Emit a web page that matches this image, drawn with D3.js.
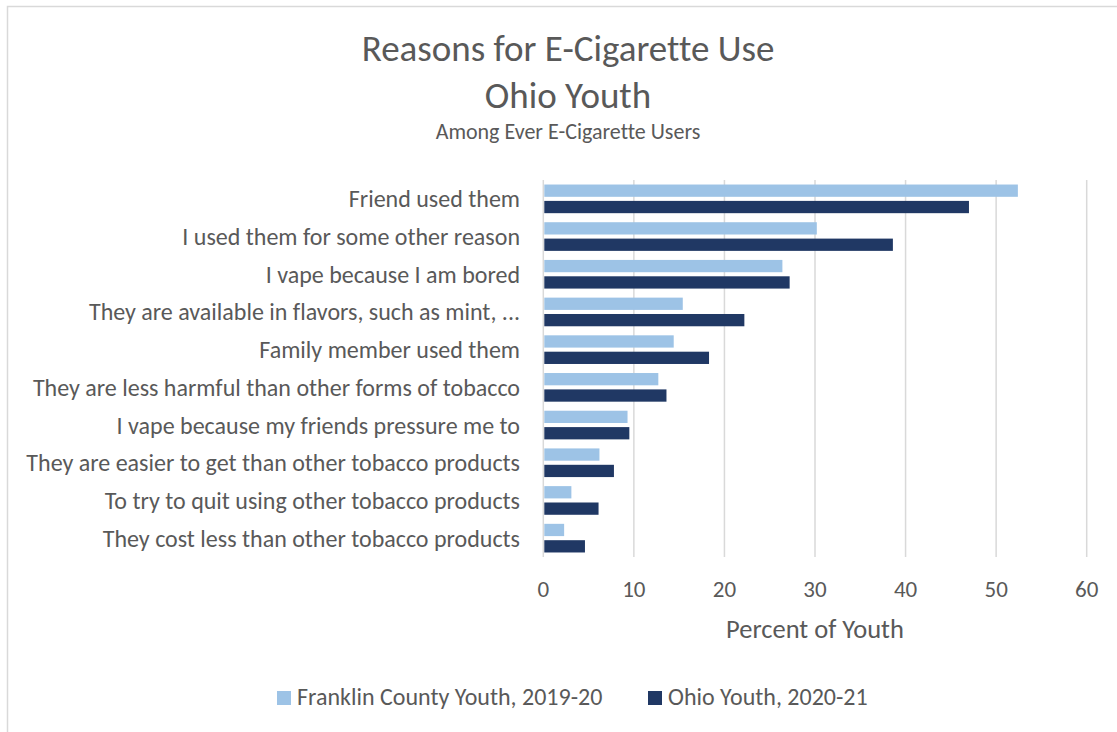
<!DOCTYPE html>
<html>
<head>
<meta charset="utf-8">
<script src="https://cdn.jsdelivr.net/npm/d3@7"></script>
<style>
  html, body { margin: 0; padding: 0; background: #fff; }
  svg { display: block; font-family: Carlito, Calibri, Lato, sans-serif; font-variant-ligatures: none; }
</style>
</head>
<body>
<svg id="chart" width="1117" height="732"></svg>
<script>
// Chart data
const categories = [
    'Friend used them',
    'I used them for some other reason',
    'I vape because I am bored',
    'They are available in flavors, such as mint, ...',
    'Family member used them',
    'They are less harmful than other forms of tobacco',
    'I vape because my friends pressure me to',
    'They are easier to get than other tobacco products',
    'To try to quit using other tobacco products',
    'They cost less than other tobacco products'
];
const franklin = [52.4, 30.2, 26.4, 15.4, 14.4, 12.7, 9.3, 6.2, 3.1, 2.3];
const ohio = [47.0, 38.6, 27.2, 22.2, 18.3, 13.6, 9.5, 7.8, 6.1, 4.6];
const seriesNames = ['Franklin County Youth, 2019-20', 'Ohio Youth, 2020-21'];
const seriesColors = ['#9dc3e6', '#203864'];
const xTicks = [0, 10, 20, 30, 40, 50, 60];

const textColor = '#595959';
const svg = d3.select('#chart');

// Outer chart border
svg.append('rect')
    .attr('x', 7.5).attr('y', 6.5)
    .attr('width', 1140).attr('height', 760)
    .attr('fill', 'none')
    .attr('stroke', '#d9d9d9')
    .attr('stroke-width', 1.5);

// Titles
const titles = [
    {text: 'Reasons for E-Cigarette Use', y: 61, size: 37},
    {text: 'Ohio Youth', y: 108, size: 37},
    {text: 'Among Ever E-Cigarette Users', y: 139, size: 22}
];
svg.selectAll('text.title')
    .data(titles)
    .enter()
    .append('text')
    .attr('class', 'title')
    .attr('x', 568)
    .attr('y', d => d.y)
    .attr('text-anchor', 'middle')
    .attr('fill', textColor)
    .style('font-size', d => d.size + 'px')
    .text(d => d.text);

// Scales
const x = d3.scaleLinear().domain([0, 60]).range([543.3, 1086.7]);
const y = d3.scaleBand().domain(categories).range([180, 557]);
const inner = d3.scaleBand()
    .domain([0, 1])
    .range([y.bandwidth() * 0.12, y.bandwidth() * 0.88])
    .paddingInner(0.25);

// Gridlines
svg.append('g')
    .selectAll('line')
    .data(xTicks)
    .enter()
    .append('line')
    .attr('x1', d => x(d)).attr('x2', d => x(d))
    .attr('y1', 180).attr('y2', 557)
    .attr('stroke', '#d9d9d9')
    .attr('stroke-width', 1.5);

// Bars
const rows = svg.append('g')
    .selectAll('g')
    .data(categories)
    .enter()
    .append('g')
    .attr('transform', d => `translate(0,${y(d)})`);

rows.selectAll('rect')
    .data((d, i) => [franklin[i], ohio[i]])
    .enter()
    .append('rect')
    .attr('x', x(0) + 1)
    .attr('y', (d, j) => inner(j))
    .attr('width', d => x(d) - x(0) - 1)
    .attr('height', inner.bandwidth())
    .attr('fill', (d, j) => seriesColors[j]);

// Category labels
svg.append('g')
    .selectAll('text')
    .data(categories)
    .enter()
    .append('text')
    .attr('x', 520)
    .attr('y', d => y(d) + y.bandwidth() / 2 + 8.5)
    .attr('text-anchor', 'end')
    .attr('fill', textColor)
    .style('font-size', '24px')
    .text(d => d);

// X axis tick labels
svg.append('g')
    .selectAll('text')
    .data(xTicks)
    .enter()
    .append('text')
    .attr('x', d => x(d))
    .attr('y', 597)
    .attr('text-anchor', 'middle')
    .attr('fill', textColor)
    .style('font-size', '23px')
    .text(d => d);

// X axis title
svg.append('text')
    .attr('x', 815)
    .attr('y', 638)
    .attr('text-anchor', 'middle')
    .attr('fill', textColor)
    .style('font-size', '26.5px')
    .text('Percent of Youth');

// Legend
const legendItems = [
    {name: seriesNames[0], color: seriesColors[0], x: 277},
    {name: seriesNames[1], color: seriesColors[1], x: 648}
];
const legend = svg.append('g')
    .selectAll('g')
    .data(legendItems)
    .enter()
    .append('g')
    .attr('transform', d => `translate(${d.x},691)`);

legend.append('rect')
    .attr('width', 14).attr('height', 14)
    .attr('fill', d => d.color);

legend.append('text')
    .attr('x', 20)
    .attr('y', 14)
    .attr('fill', textColor)
    .style('font-size', '24px')
    .text(d => d.name);
</script>
</body>
</html>
